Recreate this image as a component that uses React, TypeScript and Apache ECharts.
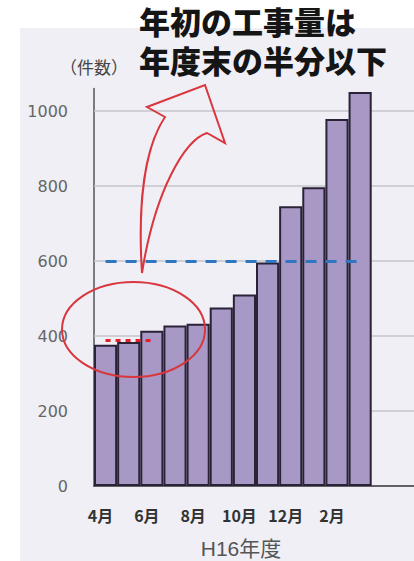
import React, { useEffect, useRef } from "react";
import * as echarts from "echarts";

const months = ["4月", "5月", "6月", "7月", "8月", "9月", "10月", "11月", "12月", "1月", "2月", "3月", "", ""];
const counts = [377, 384, 414, 428, 433, 476, 511, 596, 746, 797, 979, 1051];
const gridValues = [200, 400, 600, 800, 1000];
const yearEndHalf = 600;
const yearStart = 390;
const titleLines = ["年初の工事量は", "年度末の半分以下"];
const yName = "（件数）";
const xName = "H16年度";

const arrowPath =
  "M142,273 C138,210 143,150 165,117 L147,107 L205,85 L225,143 L207,133 C185,140 155,190 142,273 Z";

export default function App() {
  const ref = useRef<HTMLDivElement>(null);
  useEffect(() => {
    if (!ref.current) return;
    try {
      echarts.graphic.registerShape("bigArrow", echarts.graphic.extendPath(arrowPath, {}));
    } catch (e) {}
    const chart = echarts.init(ref.current, undefined, { renderer: "svg" });
    const titleStyle = {
      fontSize: 31,
      fontWeight: 900,
      lineHeight: 34,
      color: "#151515",
      fontFamily: "'Liberation Sans', 'Noto Sans CJK JP', sans-serif",
    };
    chart.setOption({
      animation: false,
      backgroundColor: "#ffffff",
      title: [
        { text: titleLines[0], left: 139, top: 6, padding: 0, textStyle: titleStyle, z: 20 },
        { text: titleLines[1], left: 139, top: 45, padding: 0, textStyle: titleStyle, z: 20 },
      ],
      grid: { left: 94, right: -4, top: 88.5, bottom: 75, outerBoundsMode: "none", containLabel: false },
      xAxis: {
        type: "category",
        data: months,
        name: xName,
        nameLocation: "middle",
        nameGap: 51,
        nameTextStyle: {
          fontSize: 21,
          lineHeight: 22,
          color: "#555",
          fontFamily: "'Liberation Sans', 'Noto Sans CJK JP', sans-serif",
          padding: [0, 30, 0, 0],
        },
        axisLine: { lineStyle: { color: "#333", width: 1.5 } },
        axisTick: { show: false },
        axisLabel: {
          interval: 1,
          margin: 21,
          fontSize: 16,
          fontWeight: "bold",
          color: "#333",
          fontFamily: "Noto Sans CJK JP",
          padding: [0, 10, 0, 0],
        },
        splitLine: { show: false },
      },
      yAxis: {
        type: "value",
        min: 0,
        max: 1060,
        interval: 200,
        name: yName,
        nameLocation: "end",
        nameGap: 14,
        nameTextStyle: { fontSize: 17, color: "#444", fontFamily: "Noto Sans CJK JP" },
        axisLine: { show: true, lineStyle: { color: "#555", width: 1.5 } },
        axisTick: { show: false },
        axisLabel: {
          margin: 26,
          fontSize: 16,
          color: "#666",
          fontFamily: "DejaVu Sans",
          showMaxLabel: false,
          formatter: (v: number) => (v % 200 === 0 ? String(v) : ""),
        },
        splitLine: { show: false },
      },
      graphic: [
        {
          type: "rect",
          z: -10,
          silent: true,
          shape: { x: 20, y: 28, width: 394, height: 533 },
          style: { fill: "#efeff5" },
        },
        {
          type: "ellipse",
          z: 10,
          silent: true,
          shape: { cx: 133.5, cy: 329.5, rx: 71.5, ry: 47.5 },
          style: { fill: "none", stroke: "#d9363e", lineWidth: 2 },
        },
        {
          type: "bigArrow",
          z: 10,
          silent: true,
          x: 0,
          y: 0,
          style: { fill: "none", stroke: "#d9363e", lineWidth: 2 },
        },
      ],
      series: [
        {
          type: "bar",
          data: counts,
          barCategoryGap: "0%",
          itemStyle: { color: "#a898c6", borderColor: "#2b2238", borderWidth: 2 },
          markLine: {
            silent: true,
            symbol: "none",
            label: { show: false },
            z: 6,
            data: [
              [
                { coord: [0, yearEndHalf], lineStyle: { color: "#2f75c0", type: [11, 9], width: 3 } },
                { coord: [11, yearEndHalf] },
              ],
              [
                { coord: [0, yearStart], lineStyle: { color: "#e3202a", type: [5, 5], width: 3 } },
                { coord: [2, yearStart] },
              ],
            ],
          },
        },
        {
          type: "line",
          data: [],
          markLine: {
            silent: true,
            symbol: "none",
            label: { show: false },
            z: 1,
            lineStyle: { color: "#c4c4ca", type: "solid", width: 1.5 },
            data: gridValues.map((v) => ({ yAxis: v })),
          },
        },
      ],
    });
    return () => chart.dispose();
  }, []);
  return (
    <div
      ref={ref}
      style={{ position: "fixed", left: 0, top: 0, width: 414, height: 561 }}
    />
  );
}
